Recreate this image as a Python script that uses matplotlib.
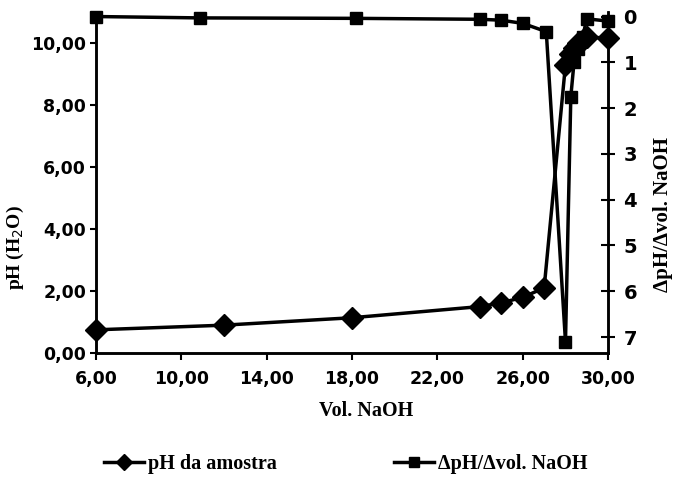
import matplotlib
matplotlib.use('Agg')
import matplotlib.pyplot as plt
from matplotlib.font_manager import FontProperties
from matplotlib.ticker import FuncFormatter

# titration data
vol_naoh = [6, 12, 18, 24, 25, 26, 27, 28, 28.2, 28.4, 28.6, 28.8, 29, 30]
ph_amostra = [0.75, 0.9, 1.14, 1.5, 1.62, 1.8, 2.1, 9.3, 9.65, 9.85, 10.0, 10.1, 10.2, 10.15]
vol_deriv = [6, 10.9, 18.2, 24, 25, 26, 27.1, 28, 28.25, 28.4, 28.6, 28.8, 29, 30]
dph_dvol = [0.0, 0.03, 0.04, 0.06, 0.08, 0.15, 0.33, 7.1, 1.75, 1.0, 0.7, 0.45, 0.05, 0.1]

x_ticks = [6, 10, 14, 18, 22, 26, 30]
ph_ticks = [0, 2, 4, 6, 8, 10]
dph_ticks = [0, 1, 2, 3, 4, 5, 6, 7]

tick_fp = FontProperties(family='DejaVu Sans', weight='bold', size=12.5)
serif = 'Liberation Serif'

fig = plt.figure(figsize=(6.75, 4.98), dpi=100)
ax = fig.add_axes([0.142, 0.291, 0.759, 0.685])
ax2 = ax.twinx()

l1, = ax.plot(vol_naoh, ph_amostra, color='black', lw=2.5, marker='D',
              markersize=11, label='pH da amostra', clip_on=False, zorder=3)
l2, = ax2.plot(vol_deriv, dph_dvol, color='black', lw=2.5, marker='s',
               markersize=9, label='ΔpH/Δvol. NaOH', clip_on=False, zorder=3)

ax.set_xlim(6, 30)
ax.set_ylim(0, 11)
ax2.set_ylim(7.35, -0.1)

ax.set_xticks(x_ticks)
ax.set_yticks(ph_ticks)
ax2.set_yticks(dph_ticks)
comma = FuncFormatter(lambda v, p: f"{v:.2f}".replace('.', ','))
ax.xaxis.set_major_formatter(comma)
ax.yaxis.set_major_formatter(comma)

for a in (ax, ax2):
    a.spines['top'].set_visible(False)
    for s in a.spines.values():
        s.set_linewidth(1.8)
    for lab in a.get_xticklabels() + a.get_yticklabels():
        lab.set_fontproperties(tick_fp)

ax.tick_params(axis='x', direction='out', length=5, width=1.5, pad=7)
ax.tick_params(axis='y', direction='out', length=4, width=1.5, pad=3)
ax2.tick_params(axis='y', direction='inout', length=10, width=1.5, pad=6)
for lab in ax2.get_yticklabels():
    lab.set_fontsize(14)

ax.set_xlabel('Vol. NaOH', family=serif, weight='bold', size=14.5)
ax.xaxis.set_label_coords(0.527, -0.14)
ax.set_ylabel('pH (H$_2$O)', family=serif, weight='bold', size=14)
ax.yaxis.set_label_coords(-0.136, 0.31)
ax2.set_ylabel('ΔpH/Δvol. NaOH', family=serif, weight='bold', size=15)
ax2.yaxis.set_label_coords(1.088, 0.405)

fig.legend(handles=[l1, l2], loc='center', bbox_to_anchor=(0.512, 0.068), ncol=2,
           frameon=False, columnspacing=5.8, handlelength=2.0, handletextpad=0.2,
           markerscale=0.75,
           prop={'family': serif, 'weight': 'bold', 'size': 14.5})

fig.savefig('out.png', dpi=100)
